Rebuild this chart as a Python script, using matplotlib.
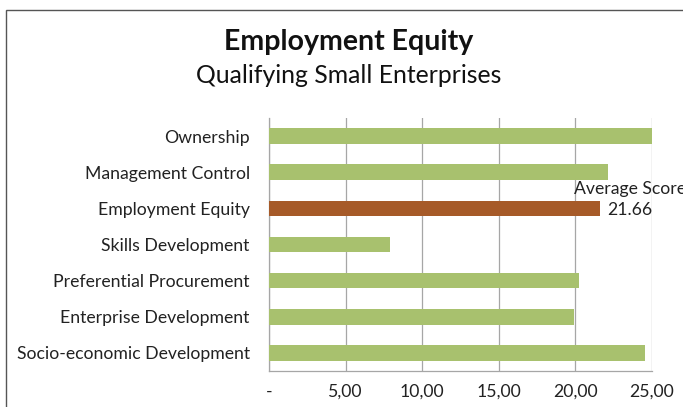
import matplotlib
matplotlib.use("Agg")
import matplotlib.pyplot as plt
from matplotlib.patches import Rectangle

plt.rcParams['font.family'] = ['Lato', 'DejaVu Sans']

# data (top to bottom)
categories = ['Ownership', 'Management Control', 'Employment Equity', 'Skills Development',
              'Preferential Procurement', 'Enterprise Development', 'Socio-economic Development']
scores = [25.0, 22.15, 21.66, 7.9, 20.27, 19.9, 24.6]
highlight = 'Employment Equity'
avg_score = 21.66
xticks = [0, 5, 10, 15, 20, 25]
xticklabels = ['-', '5,00', '10,00', '15,00', '20,00', '25,00']

green = '#a8c16e'
brown = '#a65a28'

fig = plt.figure(figsize=(6.83, 4.07), dpi=100)
ax = fig.add_axes([0.394, 0.0885, 0.560, 0.6215])

colors = [brown if c == highlight else green for c in categories]
ypos = range(len(categories))
ax.barh(ypos, scores, height=0.43, color=colors, zorder=3)
ax.set_ylim(len(categories) - 0.5, -0.5)
ax.set_xlim(0, 25)
ax.set_yticks(list(ypos))
ax.set_yticklabels(categories, fontsize=12.7, color='#222222')
ax.set_xticks(xticks)
ax.set_xticklabels(xticklabels, fontsize=12.7, color='#222222')
ax.tick_params(axis='x', length=0, pad=9)
ax.tick_params(axis='y', length=0, pad=14)
ax.grid(axis='x', color='#a6a6a6', linewidth=0.9, zorder=0)
for s in ['top', 'right']:
    ax.spines[s].set_visible(False)
for s in ['left', 'bottom']:
    ax.spines[s].set_color('#a6a6a6')
    ax.spines[s].set_linewidth(0.9)

ax.annotate('Average Score\n%.2f' % avg_score, xy=(avg_score, categories.index(highlight)),
            xytext=(23.6, categories.index(highlight) - 0.24), textcoords='data',
            ha='center', va='center', fontsize=12.7, color='#222222',
            linespacing=1.4, annotation_clip=False, zorder=5)

fig.text(0.511, 0.897, 'Employment Equity', ha='center', va='center',
         fontsize=20.5, fontweight='bold', color='#111111')
fig.text(0.511, 0.815, 'Qualifying Small Enterprises', ha='center', va='center',
         fontsize=17.8, color='#111111')

# chart border (cut off at the right and bottom)
fig.patches.append(Rectangle((6 / 683, -0.1), 1.2, 1 - 10 / 407 + 0.1,
                             transform=fig.transFigure, fill=False,
                             edgecolor='#555555', linewidth=1.0))

fig.savefig('out.png', dpi=100)
